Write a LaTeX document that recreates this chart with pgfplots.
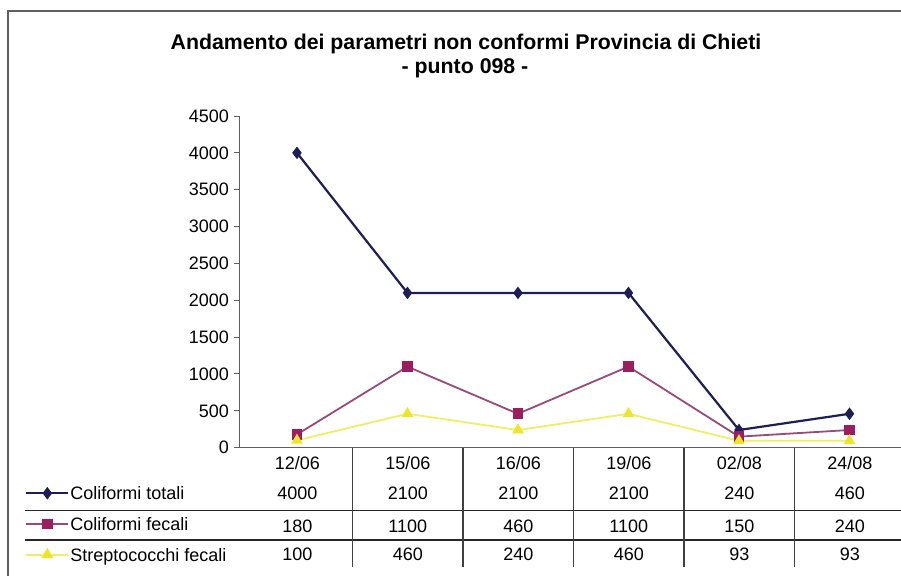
\documentclass[border=0pt]{standalone}
\usepackage{fontspec}
\setmainfont{Liberation Sans}
\usepackage{pgfplots}
\pgfplotsset{compat=1.18}
\definecolor{navy}{RGB}{30,30,85}
\definecolor{magline}{RGB}{150,75,120}
\definecolor{magmark}{RGB}{155,30,95}
\definecolor{yelline}{RGB}{240,238,100}
\definecolor{yelmark}{RGB}{238,228,40}
\definecolor{axgray}{RGB}{95,95,95}
\begin{document}
\begin{tikzpicture}[x=1pt,y=1pt]
\path[use as bounding box] (0,0) rectangle (901,576);
\draw[axgray, line width=2pt] (8,0) -- (8,564.5) -- (901,564.5);
\node[font=\fontsize{21.3}{24}\selectfont\bfseries, anchor=base, inner sep=0pt] at (466,526) {Andamento dei parametri non conformi Provincia di Chieti};
\node[font=\fontsize{21.3}{24}\selectfont\bfseries, anchor=base, inner sep=0pt] at (465,502) {- punto 098 -};
\begin{axis}[
  at={(239.5pt,128.3pt)}, anchor=south west,
  scale only axis, width=661.9pt, height=331.7pt,
  xmin=-0.52, xmax=5.47, ymin=0, ymax=4500,
  axis x line*=bottom, axis y line*=left,
  axis line style={axgray, line width=1.2pt, -},
  xtick=\empty, ytick={0,500,...,4500},
  tick style={axgray, line width=1pt}, major tick length=6pt, tick align=outside,
  yticklabel style={font=\fontsize{18}{20}\selectfont, xshift=-1pt},
  /pgf/number format/1000 sep={},
  /pgf/number format/assume math mode=true,
  clip=false,
  legend image code/.code={\draw[mark repeat=2,mark phase=2] plot coordinates {(0pt,0pt)(21pt,0pt)(42pt,0pt)};},
  legend style={at={(-0.324,-0.114)}, anchor=north west, draw=none, fill=none,
    inner sep=0pt, row sep=15.7pt, column sep=1pt,
    font=\fontsize{18}{20}\selectfont,
    nodes={inner sep=0pt, text height=14pt, text depth=1pt}},
  legend cell align=left,
]
\addplot[navy, line width=2.2pt, mark=diamond*, mark size=4.5pt, mark options={solid, fill=navy}]
  coordinates {(0,4000) (1,2100) (2,2100) (3,2100) (4,240) (5,460)};
\addlegendentry{Coliformi totali}
\addplot[magline, line width=1.8pt, mark=square*, mark size=4.5pt, mark options={solid, draw=magmark, fill=magmark}]
  coordinates {(0,180) (1,1100) (2,460) (3,1100) (4,150) (5,240)};
\addlegendentry{Coliformi fecali}
\addplot[yelline, line width=1.8pt, mark=triangle*, mark size=5pt, mark options={solid, draw=yelmark, fill=yelmark}]
  coordinates {(0,100) (1,460) (2,240) (3,460) (4,93) (5,93)};
\addlegendentry{Streptococchi fecali}
\end{axis}
% data table grid
\draw[black!85, line width=1.2pt] (25,65.5) -- (901,65.5);
\draw[black!85, line width=1.2pt] (25,36) -- (901,36);
\foreach \xx in {352.55,463.05,573.55,684.05,794.55}
  \draw[black!75, line width=1.2pt] (\xx,128.3) -- (\xx,9);
\begin{scope}[every node/.style={font=\fontsize{18}{20}\selectfont, anchor=base, inner sep=0pt}]
\foreach \xx/\d/\a/\b/\c in {297.3/12\slash 06/4000/180/100, 407.8/15\slash 06/2100/1100/460, 518.3/16\slash 06/2100/460/240, 628.8/19\slash 06/2100/1100/460, 739.3/02\slash 08/240/150/93, 849.8/24\slash 08/460/240/93}{
  \node at (\xx,106.5) {\d};
  \node at (\xx,76.5) {\a};
  \node at (\xx,44) {\b};
  \node at (\xx,15.5) {\c};
}
\end{scope}
\end{tikzpicture}
\end{document}
